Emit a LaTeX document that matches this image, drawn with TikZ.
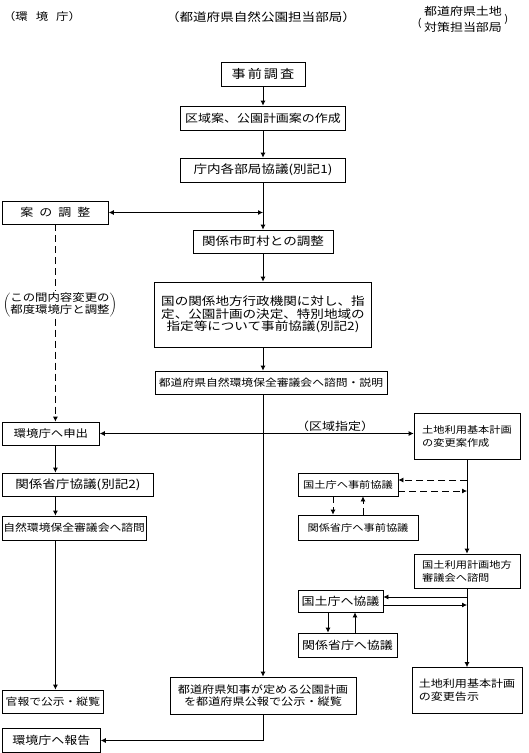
\documentclass[tikz,border=0pt]{standalone}
\usepackage{fontspec}
\newfontfamily\jp[FakeStretch=1.18]{Noto Sans CJK JP}
\newcommand\jf[2]{\jp\fontsize{#1}{#2}\selectfont}
\usetikzlibrary{arrows.meta, positioning}
\tikzset{
    box/.style={rectangle, draw, line width=0.8pt, inner sep=1pt, align=center, font=\jf{11}{12.5}},
    lbox/.style={box, align=left},
    hdr/.style={inner sep=1pt, align=center, font=\jf{11.5}{13}},
    arrow/.style={-{Latex[length=5pt,width=5pt]}, line width=0.8pt},
    twoway/.style={{Latex[length=5pt,width=5pt]}-{Latex[length=5pt,width=5pt]}, line width=0.8pt},
    dline/.style={dash pattern=on 7pt off 4pt, line width=0.8pt},
}

\begin{document}
\begin{tikzpicture}[x=1pt, y=-1pt]
    \useasboundingbox (0,0) rectangle (528,753);

    \node[hdr, font=\jf{10.5}{12}] (hleft) at (42,17) {（環\hspace{8pt}境\hspace{8pt}庁）};
    \node[hdr] (hcenter) at (261,17) {（都道府県自然公園担当部局）};
    \node[hdr, font=\jf{11}{16}] (hright) at (463,19) {都道府県土地\\対策担当部局};
    \node[hdr, font=\jf{10}{12}, left=0pt of hright, yshift=-4pt] (hrl) {(};
    \node[hdr, font=\jf{10}{12}, right=0pt of hright] (hrr) {)};

    \node[box, minimum width=84pt, minimum height=24pt, font=\jf{12}{13}] (jizen) at (263,74) {事\,前\,調\,査};
    \node[box, minimum width=165pt, minimum height=24pt] (kuiki) at (263,118) {区域案、公園計画案の作成};
    \node[box, minimum width=165pt, minimum height=24pt, font=\jf{11.5}{13}] (chonai) at (263,170) {庁内各部局協議(別記1)};
    \node[box, minimum width=140pt, minimum height=23pt, font=\jf{11.5}{13}] (kankei) at (263,241.5) {関係市町村との調整};
    \node[box, minimum width=217pt, minimum height=65pt, font=\jf{11.5}{12.5}] (kuni) at (263,314.5) {国の関係地方行政機関に対し、指\\定、公園計画の決定、特別地域の\\指定等について事前協議(別記2)};
    \node[box, minimum width=232pt, minimum height=23pt, font=\jf{10}{12}] (shingi) at (271,382.5) {都道府県自然環境保全審議会へ諮問・説明};
    \node[box, minimum width=186pt, minimum height=37pt, font=\jf{10.3}{12}] (chiji) at (263,695.5) {都道府県知事が定める公園計画\\を都道府県公報で公示・縦覧};

    \node[box, anchor=west, minimum width=106pt, minimum height=23pt] (anchosei) at (2,212.5) {案\hspace{6pt}の\hspace{6pt}調\hspace{6pt}整};
    \node[hdr, font=\jf{10.5}{12}] (note) at (60,305) {$\left(\begin{tabular}{@{}c@{}}この間内容変更の\\都度環境庁と調整\end{tabular}\right)$};
    \node[box, anchor=west, minimum width=97pt, minimum height=23pt, font=\jf{10.5}{12}] (moushide) at (2,433.5) {環境庁へ申出};
    \node[box, anchor=west, minimum width=151pt, minimum height=23pt, font=\jf{11.5}{13}] (shocho) at (2,484.5) {関係省庁協議(別記2)};
    \node[box, anchor=west, minimum width=140pt, minimum height=24pt, font=\jf{10}{12}] (shizen) at (2,528) {自然環境保全審議会へ諮問};
    \node[box, anchor=west, minimum width=101pt, minimum height=23pt, font=\jf{10}{12}] (kanpo) at (2,701.5) {官報で公示・縦覧};
    \node[box, anchor=west, minimum width=98pt, minimum height=24pt] (houkoku) at (2,740.5) {環境庁へ報告};

    \node[lbox, minimum width=106pt, minimum height=46pt, font=\jf{9.5}{13}] (tochi) at (467,436) {土地利用基本計画\\の変更案作成};
    \node[box, minimum width=100pt, minimum height=23pt, font=\jf{9.5}{12}] (kj) at (348,484.5) {国土庁へ事前協議};
    \node[box, minimum width=120pt, minimum height=25pt, font=\jf{9.5}{12}] (ks) at (358,527.5) {関係省庁へ事前協議};
    \node[lbox, minimum width=106pt, minimum height=34pt, font=\jf{9.5}{13}] (kokudo) at (467,571) {国土利用計画地方\\審議会へ諮問};
    \node[box, minimum width=85pt, minimum height=22pt] (kk) at (340.5,601) {国土庁へ協議};
    \node[box, minimum width=99pt, minimum height=24pt] (ksk) at (347.5,645) {関係省庁へ協議};
    \node[lbox, minimum width=110pt, minimum height=46pt, font=\jf{10.2}{13}] (kokuji) at (467,690.5) {土地利用基本計画\\の変更告示};

    \coordinate (j1) at (anchosei -| chonai.south);
    \coordinate (r1) at (467,480);
    \coordinate (r2) at (467,491);
    \coordinate (r3) at (467,597);
    \coordinate (r4) at (467,605);

    \draw[arrow] (jizen) -- (kuiki);
    \draw[arrow] (kuiki) -- (chonai);
    \draw[arrow] (chonai) -- (kankei);
    \draw[twoway] (anchosei) -- (j1);
    \draw[arrow] (kankei) -- (kuni);
    \draw[arrow] (kuni) -- (shingi.north -| kuni.south);
    \draw[arrow] (shingi.south -| kuni.south) -- (chiji);
    \draw[arrow] (chiji.south) |- (houkoku);

    \draw[dline] (anchosei.south) -- (anchosei.south |- note.north);
    \draw[dline, arrow] (anchosei.south |- note.south) -- (anchosei.south |- moushide.north);
    \draw[arrow] (moushide.south -| anchosei.south) -- (shocho.north -| anchosei.south);
    \draw[arrow] (shocho.south -| anchosei.south) -- (shizen.north -| anchosei.south);
    \draw[arrow] (shizen.south -| anchosei.south) -- (kanpo.north -| anchosei.south);
    \draw[twoway] (moushide) -- (moushide -| tochi.west) node[hdr, font=\jf{11}{12}, pos=0.75, above=1pt] {（区域指定）};

    \draw[arrow] (tochi) -- (kokudo);
    \draw[arrow] (kokudo) -- (kokuji);
    \draw[dline, arrow] (r1) -- (r1 -| kj.east);
    \draw[dline, arrow] (r2 -| kj.east) -- (r2);
    \draw[dline, arrow] ([xshift=-15pt]kj.south) -- ([xshift=-15pt]kj.south |- ks.north);
    \draw[dline, arrow] ([xshift=15pt]kj.south |- ks.north) -- ([xshift=15pt]kj.south);
    \draw[arrow] (r3) -- (r3 -| kk.east);
    \draw[arrow] (r4 -| kk.east) -- (r4);
    \draw[arrow] ([xshift=-12.5pt]kk.south) -- ([xshift=-12.5pt]kk.south |- ksk.north);
    \draw[arrow] ([xshift=14.5pt]kk.south |- ksk.north) -- ([xshift=14.5pt]kk.south);

\end{tikzpicture}
\end{document}
